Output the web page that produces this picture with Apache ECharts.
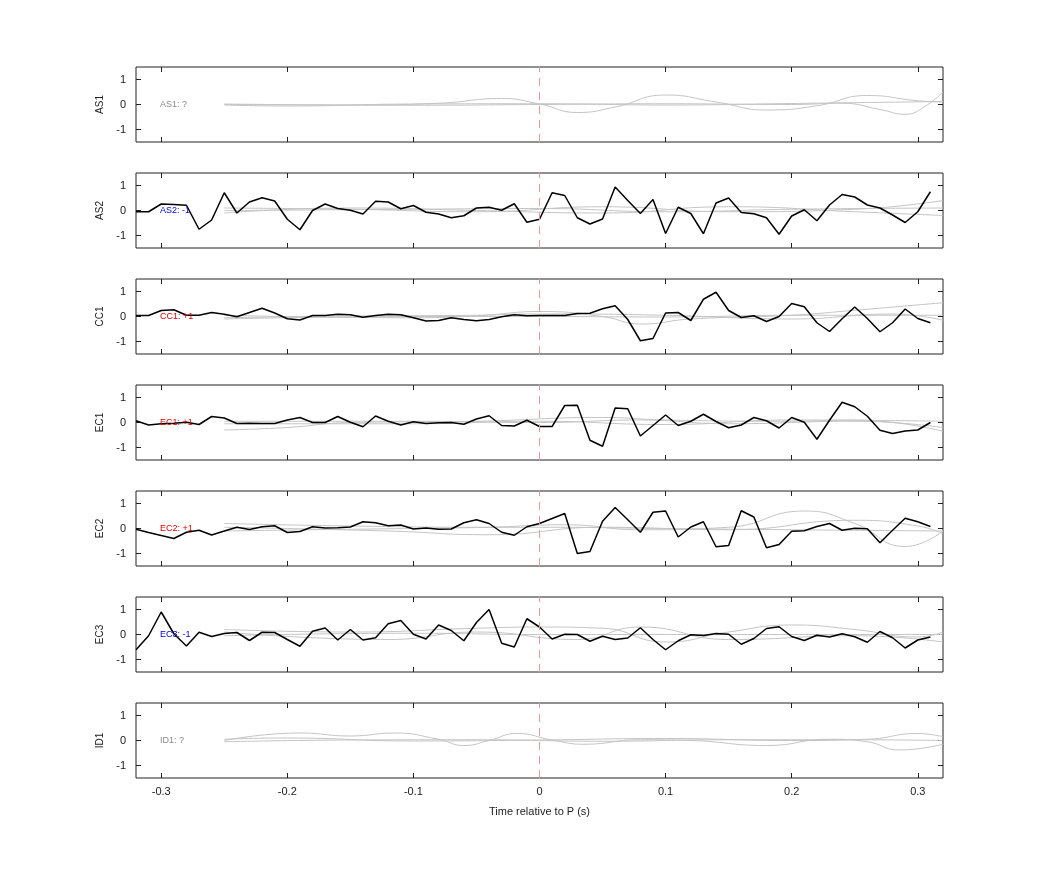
<!DOCTYPE html>
<html>
<head>
<meta charset="utf-8">
<script src="https://cdn.jsdelivr.net/npm/echarts@6/dist/echarts.min.js"></script>
<style>html,body{margin:0;background:#fff}#main{width:1042px;height:875px}</style>
</head>
<body>
<div id="main"></div>
<script>
// time axis (s)
const time = [-0.32,-0.31,-0.30,-0.29,-0.28,-0.27,-0.26,-0.25,-0.24,-0.23,-0.22,-0.21,-0.20,-0.19,-0.18,-0.17,
  -0.16,-0.15,-0.14,-0.13,-0.12,-0.11,-0.10,-0.09,-0.08,-0.07,-0.06,-0.05,-0.04,-0.03,-0.02,-0.01,
  0.00,0.01,0.02,0.03,0.04,0.05,0.06,0.07,0.08,0.09,0.10,0.11,0.12,0.13,0.14,0.15,
  0.16,0.17,0.18,0.19,0.20,0.21,0.22,0.23,0.24,0.25,0.26,0.27,0.28,0.29,0.30,0.31]

const stations = ['AS1','AS2','CC1','EC1','EC2','EC3','ID1']
const polarity = ['?','-1','+1','+1','+1','-1','?']
const xTicks = [-0.3,-0.2,-0.1,0,0.1,0.2,0.3]
const yTicks = [-1,0,1]

// black traces (null = no trace)
const as2 = [-0.05,-0.05,0.26,0.24,0.21,-0.75,-0.38,0.71,-0.1,0.34,0.51,0.38,-0.35,-0.77,0,0.26,
  0.08,0.01,-0.14,0.37,0.34,0.07,0.2,-0.07,-0.14,-0.29,-0.21,0.1,0.13,0.01,0.27,-0.47,
  -0.35,0.71,0.6,-0.29,-0.54,-0.34,0.94,0.4,-0.12,0.44,-0.92,0.13,-0.12,-0.93,0.3,0.5,
  -0.08,-0.13,-0.29,-0.95,-0.22,0.03,-0.41,0.22,0.64,0.54,0.22,0.1,-0.18,-0.48,-0.05,0.75]
const cc1 = [0.04,0.04,0.24,0.27,0.05,0.05,0.16,0.09,-0.01,0.16,0.33,0.14,-0.09,-0.14,0.04,0.04,
  0.09,0.07,-0.03,0.04,0.09,0.07,-0.05,-0.18,-0.16,-0.05,-0.12,-0.17,-0.12,-0.01,0.07,0.03,
  0.04,0.04,0.04,0.12,0.13,0.31,0.43,-0.12,-0.97,-0.88,0.14,0.16,-0.16,0.69,0.97,0.24,
  -0.04,0.03,-0.2,0,0.52,0.39,-0.25,-0.6,-0.09,0.38,-0.08,-0.61,-0.25,0.3,-0.08,-0.25]
const ec1 = [0.07,-0.1,-0.05,-0.03,0.01,-0.08,0.24,0.18,-0.04,-0.03,-0.04,-0.04,0.1,0.2,0,0,
  0.24,0.01,-0.17,0.26,0.05,-0.1,0.03,-0.04,-0.01,0,-0.07,0.14,0.27,-0.12,-0.14,0.09,
  -0.16,-0.16,0.68,0.69,-0.71,-0.95,0.58,0.55,-0.54,-0.12,0.3,-0.12,0.05,0.33,0.04,-0.21,
  -0.1,0.2,0.07,-0.22,0.2,0.01,-0.67,0.09,0.81,0.63,0.25,-0.31,-0.44,-0.34,-0.3,0]
const ec2 = [-0.03,-0.16,-0.28,-0.4,-0.15,-0.07,-0.26,-0.1,0.05,-0.04,0.07,0.11,-0.16,-0.12,0.07,0.02,
  0.03,0.06,0.27,0.23,0.11,0.14,-0.02,0.02,-0.03,-0.02,0.23,0.35,0.2,-0.15,-0.27,0.07,
  0.2,0.4,0.6,-1.0,-0.92,0.29,0.84,0.35,-0.15,0.65,0.7,-0.34,0.06,0.27,-0.73,-0.68,
  0.71,0.46,-0.77,-0.64,-0.11,-0.09,0.08,0.2,-0.07,0.01,-0.01,-0.57,-0.07,0.41,0.27,0.08]
const ec3 = [-0.61,-0.05,0.9,0.03,-0.46,0.09,-0.08,0.04,0.08,-0.24,0.09,0.08,-0.2,-0.47,0.13,0.26,
  -0.22,0.2,-0.22,-0.13,0.43,0.56,0.01,-0.18,0.38,0.16,-0.25,0.48,1.0,-0.35,-0.5,0.63,
  0.3,-0.18,0.01,0,-0.27,-0.07,-0.2,-0.14,0.27,-0.2,-0.61,-0.25,-0.01,-0.04,0.04,0.01,
  -0.39,-0.16,0.24,0.31,-0.08,-0.24,-0.03,-0.1,0.03,-0.09,-0.31,0.12,-0.13,-0.54,-0.22,-0.1]
const black = [null, as2, cc1, ec1, ec2, ec3, null]

// grey traces, [time, amplitude] pairs
const greyAS1 = [
  [[-0.25,0],[-0.15,-0.02],[-0.08,0.05],[-0.03,0.24],[0,0.02],[0.03,-0.32],[0.06,-0.1],[0.1,0.38],[0.14,0.1],[0.18,-0.22],[0.22,-0.05],[0.26,0.36],[0.3,0.15],[0.32,0.1]],
  [[-0.25,0.02],[-0.1,-0.03],[0,0],[0.1,0.03],[0.2,0],[0.24,0.05],[0.27,-0.2],[0.29,-0.39],[0.305,-0.1],[0.32,0.5]],
  [[-0.25,-0.02],[-0.2,-0.06],[-0.1,0.02],[0,0.03],[0.1,-0.02],[0.2,0.04],[0.32,0.12]]
]
const greyAS2 = [
  [[-0.25,0.1],[-0.15,0.05],[-0.05,-0.05],[0.05,0.15],[0.15,-0.05],[0.25,0.05],[0.32,0.4]],
  [[-0.25,-0.1],[-0.15,0.1],[-0.05,0],[0.05,-0.1],[0.15,0.15],[0.25,-0.05],[0.32,-0.2]],
  [[-0.25,0],[-0.1,0.05],[0,0.08],[0.1,-0.05],[0.2,0.05],[0.32,0.1]]
]
const greyCC1 = [
  [[-0.25,-0.05],[-0.15,0.02],[-0.05,0.05],[0,0.2],[0.05,0],[0.08,-0.3],[0.12,-0.1],[0.2,0.05],[0.25,0.25],[0.32,0.55]],
  [[-0.25,0.05],[-0.1,-0.05],[0,0.1],[0.1,0.05],[0.2,-0.1],[0.28,0.1],[0.32,-0.15]],
  [[-0.25,-0.1],[-0.1,0],[0,0],[0.1,-0.02],[0.2,0.05],[0.32,0.05]]
]
const greyEC1 = [
  [[-0.25,-0.3],[-0.2,-0.2],[-0.15,0],[-0.05,0.05],[0.05,0.2],[0.1,0.1],[0.2,0.05],[0.25,0.1],[0.32,-0.35]],
  [[-0.25,0.05],[-0.1,0.05],[0,0],[0.08,0.1],[0.15,-0.05],[0.25,0.05],[0.32,-0.2]],
  [[-0.25,-0.05],[-0.1,-0.05],[0,0.05],[0.1,-0.08],[0.2,0.1],[0.32,0.05]]
]
const greyEC2 = [
  [[-0.25,0.2],[-0.15,0.1],[-0.05,0.05],[0.02,0.15],[0.08,-0.05],[0.15,0.05],[0.21,0.7],[0.25,0.2],[0.29,-0.72],[0.32,-0.1]],
  [[-0.25,0.05],[-0.12,-0.1],[-0.04,-0.25],[0.05,0.05],[0.15,-0.05],[0.25,0.33],[0.3,0.1],[0.32,-0.2]],
  [[-0.25,-0.1],[-0.1,0],[0,0.05],[0.1,0],[0.2,-0.05],[0.32,-0.1]]
]
const greyEC3 = [
  [[-0.25,0.2],[-0.15,0.1],[-0.05,0.25],[0,0.3],[0.05,0.25],[0.1,-0.3],[0.15,0.1],[0.2,0.38],[0.25,0.2],[0.3,-0.1],[0.32,0.1]],
  [[-0.25,0.1],[-0.12,-0.2],[-0.05,0.1],[0.03,-0.2],[0.08,0.3],[0.15,-0.2],[0.25,-0.05],[0.32,-0.3]],
  [[-0.25,-0.05],[-0.1,0.05],[0,0],[0.1,0],[0.2,0],[0.32,0]]
]
const greyID1 = [
  [[-0.25,0],[-0.19,0.3],[-0.15,0.18],[-0.115,0.3],[-0.08,0.05],[-0.06,-0.2],[-0.04,0],[-0.018,0.28],[0.01,0.02],[0.035,-0.15],[0.08,0.03],[0.12,0],[0.18,-0.2],[0.23,0.05],[0.26,-0.05],[0.285,-0.38],[0.32,-0.15]],
  [[-0.25,0.05],[-0.2,0.1],[-0.1,-0.02],[0,0.02],[0.1,0.08],[0.2,0],[0.26,0.05],[0.3,0.28],[0.32,0.15]],
  [[-0.25,-0.05],[-0.15,0.02],[-0.05,0.03],[0.05,-0.03],[0.15,0.03],[0.25,0.03],[0.32,0]]
]
const grey = [greyAS1, greyAS2, greyCC1, greyEC1, greyEC2, greyEC3, greyID1]

const font = 'Liberation Sans, Arial, sans-serif'
const tick = {inside: true, length: 5, lineStyle: {color: '#222'}}
const grids = [], xAxes = [], yAxes = [], series = [], texts = []
stations.forEach((name, i) => {
  const top = 67 + i * 106
  grids.push({left: 136, right: 99, top: top, height: 75, show: true, borderColor: '#222', borderWidth: 1})
  const last = i === stations.length - 1
  xAxes.push({type: 'value', gridIndex: i, min: -0.32, max: 0.32, position: 'bottom',
    axisLine: {show: false, onZero: false}, splitLine: {show: false},
    axisTick: Object.assign({customValues: xTicks}, tick),
    axisLabel: {show: last, customValues: xTicks, fontSize: 11, color: '#222', fontFamily: font,
      formatter: v => String(Math.round(v * 10) / 10)},
    name: last ? 'Time relative to P (s)' : '', nameLocation: 'middle', nameGap: 28,
    nameTextStyle: {fontSize: 11, color: '#222', fontFamily: font}})
  xAxes.push({type: 'value', gridIndex: i, min: -0.32, max: 0.32, position: 'top',
    axisLine: {show: false, onZero: false}, splitLine: {show: false}, axisLabel: {show: false},
    axisTick: Object.assign({customValues: xTicks}, tick)})
  yAxes.push({type: 'value', gridIndex: i, min: -1.5, max: 1.5, position: 'left',
    axisLine: {show: false, onZero: false}, splitLine: {show: false},
    axisTick: Object.assign({customValues: yTicks}, tick),
    axisLabel: {customValues: yTicks, fontSize: 11, color: '#222', fontFamily: font, margin: 10},
    name: name, nameLocation: 'middle', nameGap: 30, nameRotate: 90,
    nameTextStyle: {fontSize: 10, color: '#222', fontFamily: font}})
  yAxes.push({type: 'value', gridIndex: i, min: -1.5, max: 1.5, position: 'right',
    axisLine: {show: false, onZero: false}, splitLine: {show: false}, axisLabel: {show: false},
    axisTick: Object.assign({customValues: yTicks}, tick)})

  const xi = 2 * i, yi = 2 * i
  grey[i].forEach((g, k) => {
    series.push({type: 'line', xAxisIndex: xi, yAxisIndex: yi, data: g, smooth: 0.5, symbol: 'none',
      lineStyle: {color: '#c4c4c4', width: 1}, silent: true, z: 2,
      markLine: k === 0 ? {symbol: 'none', silent: true, label: {show: false},
        lineStyle: {color: '#e09a9a', type: [8, 6], width: 1}, data: [{xAxis: 0}]} : undefined})
  })
  if (black[i]) {
    series.push({type: 'line', xAxisIndex: xi, yAxisIndex: yi, symbol: 'none', z: 3,
      data: time.map((t, j) => [t, black[i][j]]), lineStyle: {color: '#000', width: 1.5}})
  }
  const p = polarity[i]
  texts.push({type: 'text', left: 160, top: top + 37.5 - 4, z: 10,
    style: {text: name + ': ' + p, fontSize: 9, fontFamily: font,
      fill: p === '?' ? '#888' : (p === '+1' ? '#e00000' : '#0000d0')}})
})

const chart = echarts.init(document.getElementById('main'))
chart.setOption({
  animation: false,
  grid: grids, xAxis: xAxes, yAxis: yAxes, series: series,
  graphic: texts
})
</script>
</body>
</html>
